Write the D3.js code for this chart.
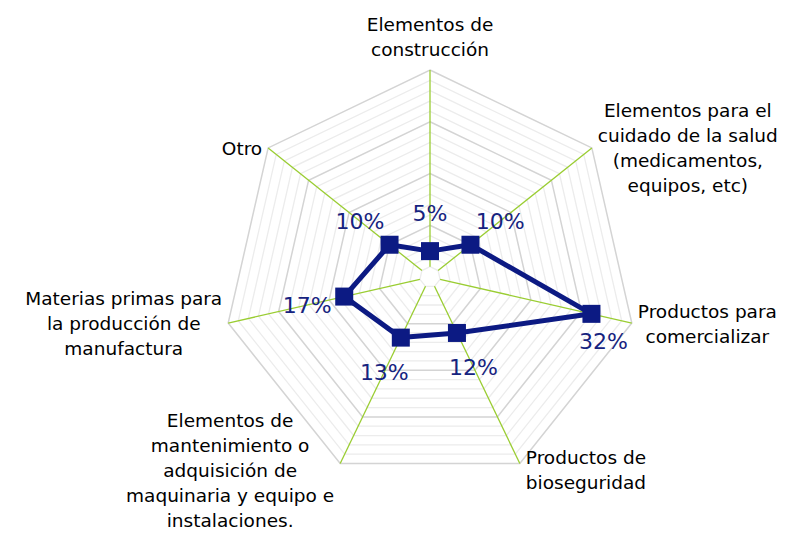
<!DOCTYPE html>
<html>
<head>
<meta charset="utf-8">
<script src="https://d3js.org/d3.v7.min.js"></script>
<style>
    body { margin: 0; background: #fff; }
    svg { display: block; }
    .cat { font-family: "Century Gothic", "DejaVu Sans", sans-serif; font-size: 18.5px; fill: #000; }
    .val { font-family: "Century Gothic", "DejaVu Sans", sans-serif; font-size: 22px; fill: #16237f; }
</style>
</head>
<body>
<script>
    // data
    var categories = [
        "Elementos de\nconstrucción",
        "Elementos para el\ncuidado de la salud\n(medicamentos,\nequipos, etc)",
        "Productos para\ncomercializar",
        "Productos de\nbioseguridad",
        "Elementos de\nmantenimiento o\nadquisición de\nmaquinaria y equipo e\ninstalaciones.",
        "Materias primas para\nla producción de\nmanufactura",
        "Otro"
    ];
    var shares = [0.05, 0.10, 0.32, 0.12, 0.13, 0.17, 0.10];
    var maxShare = 0.40;
    var majorStep = 0.10;
    var minorStep = 0.02;

    var width = 791, height = 533;
    var cx = 430, cy = 277, R = 207;

    var svg = d3.select("body").append("svg")
        .attr("width", width)
        .attr("height", height);

    var r = d3.scaleLinear().domain([0, maxShare]).range([0, R]);
    var n = categories.length;
    var angle = function(i) { return i * 2 * Math.PI / n; };

    var g = svg.append("g").attr("transform", "translate(" + cx + "," + cy + ")");

    // grid rings
    var rings = d3.range(1, Math.round(maxShare / minorStep) + 1).map(function(k) { return k * minorStep; });
    var isMajor = function(v) { return Math.abs(v / majorStep - Math.round(v / majorStep)) <= 1e-6; };
    var ring = d3.lineRadial()
        .angle(function(d, i) { return angle(i); })
        .radius(function(d) { return d; })
        .curve(d3.curveLinearClosed);

    g.selectAll(".ring")
        .data(rings.filter(function(v) { return !isMajor(v); }))
        .enter().append("path")
        .attr("class", "ring")
        .attr("d", function(v) { return ring(categories.map(function() { return r(v); })); })
        .attr("fill", "none")
        .attr("stroke", "#ececec")
        .attr("stroke-width", 1.3);

    g.selectAll(".major")
        .data(rings.filter(isMajor))
        .enter().append("path")
        .attr("class", "major")
        .attr("d", function(v) { return ring(categories.map(function() { return r(v); })); })
        .attr("fill", "none")
        .attr("stroke", "#d4d4d4")
        .attr("stroke-width", 1.5);

    // axes
    g.selectAll(".axis")
        .data(categories)
        .enter().append("line")
        .attr("class", "axis")
        .attr("x1", function(d, i) { return r(minorStep) * Math.sin(angle(i)); })
        .attr("y1", function(d, i) { return -r(minorStep) * Math.cos(angle(i)); })
        .attr("x2", function(d, i) { return R * Math.sin(angle(i)); })
        .attr("y2", function(d, i) { return -R * Math.cos(angle(i)); })
        .attr("stroke", "#9acd32")
        .attr("stroke-width", 1.3);

    // series
    var line = d3.lineRadial()
        .angle(function(d, i) { return angle(i); })
        .radius(function(d) { return r(d); })
        .curve(d3.curveLinearClosed);

    g.append("path")
        .attr("d", line(shares))
        .attr("fill", "none")
        .attr("stroke", "#0c1a83")
        .attr("stroke-width", 5)
        .attr("stroke-linejoin", "round");

    var px = function(d, i) { return r(d) * Math.sin(angle(i)); };
    var py = function(d, i) { return -r(d) * Math.cos(angle(i)); };

    g.selectAll(".mark")
        .data(shares)
        .enter().append("rect")
        .attr("class", "mark")
        .attr("x", function(d, i) { return px(d, i) - 9; })
        .attr("y", function(d, i) { return py(d, i) - 9; })
        .attr("width", 18)
        .attr("height", 18)
        .attr("fill", "#0c1a83");

    // value labels, pushed outward along the axis; the 32% one sits below its point
    var fmt = d3.format(".0%");
    g.selectAll(".val")
        .data(shares)
        .enter().append("text")
        .attr("class", "val")
        .attr("text-anchor", "middle")
        .attr("dy", "0.35em")
        .attr("x", function(d, i) {
            if (i === 2) return px(d, i) + 12;
            return px(d, i) + 38 * Math.sin(angle(i));
        })
        .attr("y", function(d, i) {
            if (i === 2) return py(d, i) + 27;
            return py(d, i) - 38 * Math.cos(angle(i));
        })
        .text(fmt);

    // category labels
    var lineH = 25, gap = 6;
    categories.forEach(function(c, i) {
        var lines = c.split("\n");
        var a = angle(i);
        var vx = R * Math.sin(a), vy = -R * Math.cos(a);
        var t = g.append("text").attr("class", "cat").attr("text-anchor", "middle");
        var spans = lines.map(function(s, k) {
            return t.append("tspan").attr("dy", k === 0 ? 0 : lineH).text(s);
        });
        var w = d3.max(spans, function(s) { return s.node().getComputedTextLength(); });
        var bx, by;
        if (Math.abs(Math.sin(a)) < 0.01) {
            bx = vx;
            by = vy - 14 - (lines.length - 1) * lineH;
        } else {
            bx = Math.sin(a) > 0 ? vx + gap + w / 2 : vx - gap - w / 2;
            // labels below the centre sit a little lower than their vertex
            by = vy - (lines.length - 1) * lineH / 2 + 7 + (Math.cos(a) < -0.5 ? 6 : 0);
        }
        spans.forEach(function(s) { s.attr("x", bx); });
        t.attr("y", by);
        spans[0].attr("y", by);
    });
</script>
</body>
</html>
